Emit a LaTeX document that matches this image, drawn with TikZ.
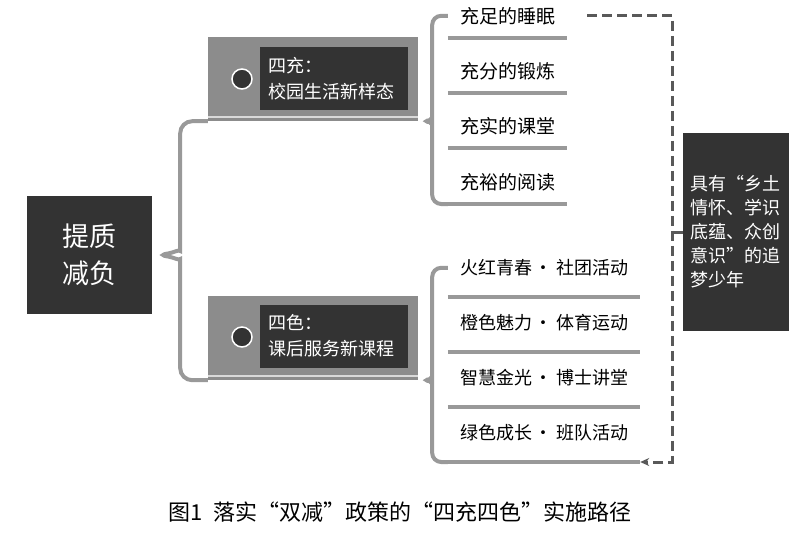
\documentclass[tikz,border=0pt]{standalone}
\usepackage{fontspec}
\setmainfont{Noto Sans CJK SC}
\usetikzlibrary{arrows.meta,positioning,calc}
\colorlet{boxdark}{black!80}
\colorlet{plankgray}{black!45}
\colorlet{plankhi}{black!15}
\colorlet{bracegray}{black!40}
\colorlet{linkgray}{black!65}

\begin{document}
\begin{tikzpicture}[x=1pt, y=-1pt,
  darkbox/.style={fill=boxdark, text=white, inner sep=0pt},
  plankbox/.style={fill=plankgray, minimum width=210, minimum height=84, inner sep=0pt},
  tagtext/.style={darkbox, minimum width=148, minimum height=63, text width=132,
    inner xsep=8pt, align=left, font=\fontsize{18}{26}\selectfont},
  hole/.style={circle, fill=boxdark, draw=white, line width=1.5pt, minimum size=20, inner sep=0pt},
  itembox/.style={inner sep=0pt, anchor=south, font=\fontsize{19}{22}\selectfont},
  rulebar/.style={draw=bracegray, line width=3.5pt},
  bracket/.style={draw=bracegray, line width=4pt, rounded corners=12pt},
  link/.style={draw=linkgray, line width=3pt, dash pattern=on 10pt off 5pt}
]
  \useasboundingbox (0,0) rectangle (800,533);

  % Root
  \node[darkbox, minimum width=125, minimum height=118, align=center,
    font=\fontsize{27}{37}\selectfont] (core) at (89.5,255) {提质\\减负};

  % Tag planks
  \node[plankbox] (chong) at (313,79) {};
  \node[plankbox] (se) at (313,338) {};
  \draw[plankhi, line width=2pt] ([yshift=4pt]chong.south west) -- ([yshift=4pt]chong.south east);
  \draw[plankhi, line width=2pt] ([yshift=4pt]se.south west) -- ([yshift=4pt]se.south east);
  \node[hole] (chongdot) at (242,79) {};
  \node[hole] (sedot) at (242,337) {};
  \node[tagtext] (chongtag) at (334,78.5) {四充：\\校园生活新样态};
  \node[tagtext] (setag) at (334,336) {四色：\\课后服务新课程};

  % Items
  \foreach \n/\y/\t in {a1/38/充足的睡眠, a2/93/充分的锻炼, a3/148/充实的课堂, a4/204/充裕的阅读}
    \node[itembox, minimum width=119, minimum height=44] (\n) at (507.5,\y) {\t};
  \foreach \n/\y/\t in {b1/297/火红青春\,•\,社团活动, b2/352/橙色魅力\,•\,体育运动,
      b3/407/智慧金光\,•\,博士讲堂, b4/462/绿色成长\,•\,班队活动}
    \node[itembox, minimum width=192, minimum height=58, font=\fontsize{18}{22}\selectfont] (\n) at (544,\y) {\t};
  \foreach \n in {a1,a2,a3,a4,b1,b2,b3,b4}
    \draw[rulebar] (\n.south west) -- (\n.south east);

  % Goal
  \node[darkbox, minimum width=106, minimum height=198, text width=92, align=left,
    font=\fontsize{18}{24}\selectfont] (goal) at (736,232)
    {具有“乡土\\情怀、学识\\底蕴、众创\\意识”的追\\梦少年};

  % Braces
  \coordinate (bigtip) at ([xshift=4pt]core.east);
  \coordinate (chongtip) at ([xshift=3pt]chong.south east);
  \coordinate (setip) at ([xshift=3pt]se.south east);
  \draw[bracket] (chong.south west) -| ($(bigtip)+(24,-16)$)
    .. controls +(0,10) and +(16,-2) .. (bigtip)
    .. controls +(16,2) and +(0,-10) .. ($(bigtip)+(24,16)$) |- (se.south west);
  \draw[bracket, rounded corners=9pt] (a1.west) -| ($(chongtip)+(11,-10)$)
    .. controls +(0,6) and +(8,-1) .. (chongtip)
    .. controls +(8,1) and +(0,-6) .. ($(chongtip)+(11,10)$) |- (a4.south west);
  \draw[bracket, rounded corners=9pt] (b1.west) -| ($(setip)+(11,-10)$)
    .. controls +(0,6) and +(8,-1) .. (setip)
    .. controls +(8,1) and +(0,-6) .. ($(setip)+(11,10)$) |- (b4.south west);

  % Feedback loop
  \draw[link, -{Stealth[length=9pt, width=8pt]}] ([xshift=20pt]a1.east) -- ++(85,0) |- (b4.south east);
  \draw[linkgray, line width=3pt] (goal.west) -- ++(-11,0);

  % Caption
  \node[font=\fontsize{22}{26}\selectfont] (caption) at (400,512)
    {图1\enspace 落实“双减”政策的“四充四色”实施路径};
\end{tikzpicture}
\end{document}
